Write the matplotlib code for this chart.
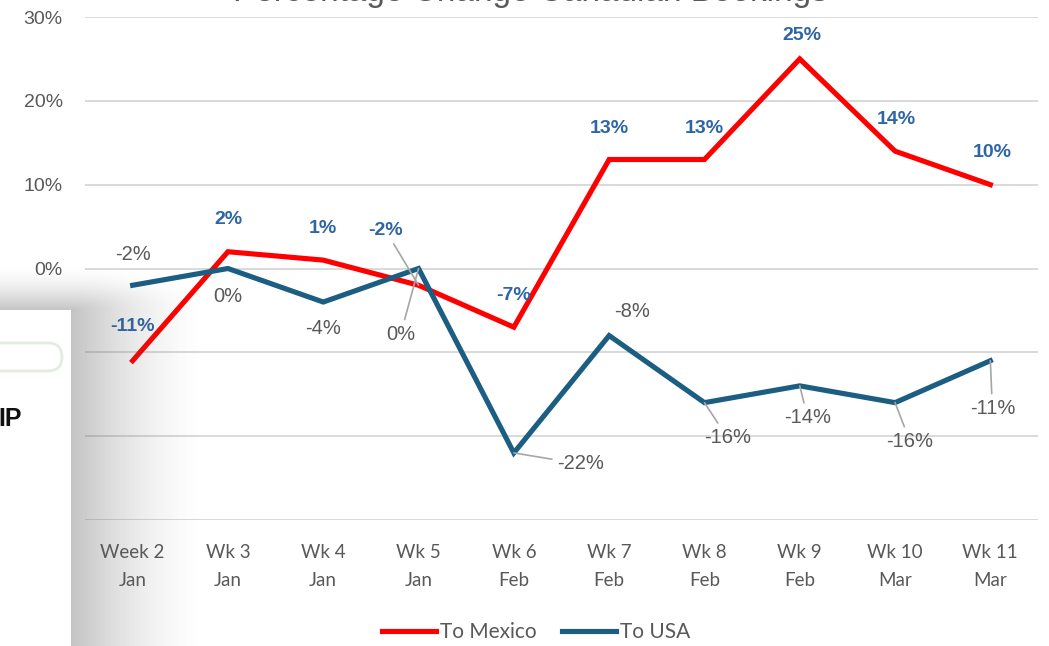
import numpy as np
import matplotlib
matplotlib.use("Agg")
import matplotlib.pyplot as plt
from matplotlib.patches import Rectangle, FancyBboxPatch

weeks = ["Week 2\nJan", "Wk 3\nJan", "Wk 4\nJan", "Wk 5\nJan", "Wk 6\nFeb",
         "Wk 7\nFeb", "Wk 8\nFeb", "Wk 9\nFeb", "Wk 10\nMar", "Wk 11\nMar"]
to_mexico = [-11, 2, 1, -2, -7, 13, 13, 25, 14, 10]
to_usa = [-2, 0, -4, 0, -22, -8, -16, -14, -16, -11]

# label offsets in pixels (dx, dy) and whether a leader line is drawn
mex_off = [(0, 34), (0, 32), (0, 32), (-33, 55), (0, 32), (0, 31), (0, 31), (2, 23), (1, 32), (2, 32)]
mex_lead = [False, False, False, True, False, False, False, False, False, False]
usa_off = [(0, 31), (0, -28), (0, -26), (-18, -66), (67, -11), (23, 24), (23, -35), (8, -32), (15, -39), (2, -48)]
usa_lead = [False, False, False, True, True, False, True, True, True, True]

W, H = 1049, 646
fig = plt.figure(figsize=(W / 100, H / 100), dpi=100)
ax = fig.add_axes([85 / W, 1 - 520 / H, 953 / W, 503 / H])

x = np.arange(len(weeks))
red = "#ff0000"
blue = "#1b5e82"
grey = "#595959"
lblue = "#2e65a5"

ax.plot(x, to_mexico, color=red, lw=3.7, solid_joinstyle="miter", label="To Mexico", zorder=3)
ax.plot(x, to_usa, color=blue, lw=3.7, solid_joinstyle="miter", label="To USA", zorder=3)

ax.set_xlim(-0.5, len(weeks) - 0.5)
ax.set_ylim(-30, 30)
ax.set_yticks(range(-30, 31, 10))
ax.set_yticklabels([f"{v}%" for v in range(-30, 31, 10)], fontsize=14,
                   color=grey, family="Liberation Sans")
ax.set_xticks(x)
ax.set_xticklabels(weeks, fontsize=13.5, color=grey, family="Lato", linespacing=1.8)
ax.tick_params(length=0)
ax.tick_params(axis="y", pad=16)
ax.tick_params(axis="x", pad=17)
ax.grid(axis="y", color="#d9d9d9", lw=1.4)
ax.set_axisbelow(True)
for s in ax.spines.values():
    s.set_visible(False)

for i, v in enumerate(to_mexico):
    dx, dy = mex_off[i]
    ap = dict(arrowstyle="-", color="#a6a6a6", lw=1.2, shrinkA=2, shrinkB=0) if mex_lead[i] else None
    ax.annotate(f"{v}%", (i, v), xytext=(dx, dy), textcoords="offset pixels",
                ha="center", va="center", fontsize=14, fontweight="bold",
                color=lblue, family="Liberation Sans", arrowprops=ap, zorder=4)

for i, v in enumerate(to_usa):
    dx, dy = usa_off[i]
    ap = dict(arrowstyle="-", color="#a6a6a6", lw=1.2, shrinkA=2, shrinkB=0) if usa_lead[i] else None
    ax.annotate(f"{v}%", (i, v), xytext=(dx, dy), textcoords="offset pixels",
                ha="center", va="center", fontsize=14.5,
                color=grey, family="Liberation Sans", arrowprops=ap, zorder=4)

fig.text(530 / W, 1 - 1 / H, "Percentage Change Canadian Bookings", ha="center",
         va="baseline", fontsize=24, color=grey, family="Liberation Sans")

leg = fig.legend(loc="center", bbox_to_anchor=(536 / W, 1 - 632 / H), ncol=2, frameon=False,
                 handlelength=2.6, handletextpad=0.2, columnspacing=1.2,
                 prop={"family": "Lato", "size": 15})
for t in leg.get_texts():
    t.set_color(grey)

# overlapping window panel on the left with its drop shadow
ov = fig.add_axes([0, 0, 1, 1], zorder=10)
ov.set_xlim(0, W)
ov.set_ylim(H, 0)
ov.axis("off")
ov.patch.set_alpha(0)
yy, xx = np.mgrid[0:H, 0:W]
dx = np.clip(xx - 71, 0, None)
dy = np.clip(310 - yy, 0, None)
d = np.sqrt(dx ** 2 + (dy * 3.0) ** 2)
alpha = 0.36 * np.clip(1 - d / 135, 0, 1) ** 1.6
rgba = np.zeros((H, W, 4))
rgba[..., :3] = 0.35
rgba[..., 3] = alpha
ov.imshow(rgba, extent=(0, W, H, 0), interpolation="bilinear", aspect="auto")
ov.add_patch(Rectangle((0, 310), 71, H - 310, facecolor="white", edgecolor="none"))
ov.add_patch(FancyBboxPatch((-30, 343), 92, 28, boxstyle="round,pad=0,rounding_size=14",
                            facecolor="white", edgecolor="#e3ece3", lw=2))
ov.text(-2, 419, "IP", fontsize=18, fontweight="bold", color="#111111",
        va="center", ha="left", family="Liberation Sans")

fig.savefig("out.png", dpi=100)
